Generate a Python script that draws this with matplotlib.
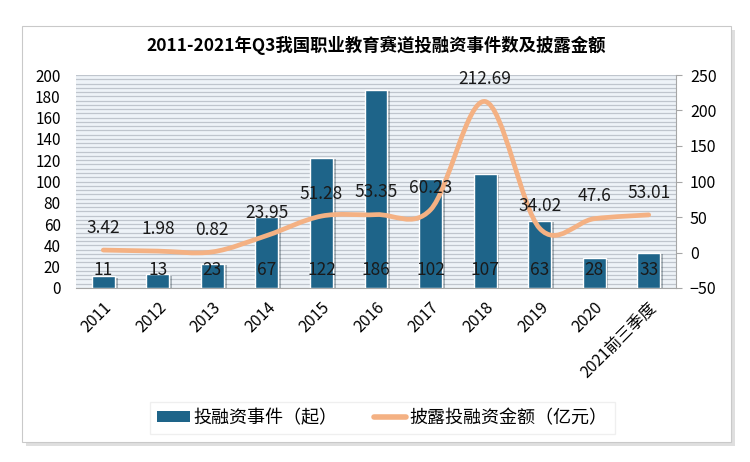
import numpy as np
import matplotlib.pyplot as plt
import matplotlib.patheffects as pe
from matplotlib.path import Path
from matplotlib.patches import PathPatch, Rectangle
from matplotlib.lines import Line2D
from matplotlib.ticker import MultipleLocator

plt.rcParams['font.family'] = ['Noto Sans CJK SC', 'DejaVu Sans']

# data
years = ["2011", "2012", "2013", "2014", "2015", "2016", "2017", "2018",
         "2019", "2020", "2021前三季度"]
events = [11, 13, 23, 67, 122, 186, 102, 107, 63, 28, 33]
amount = [3.42, 1.98, 0.82, 23.95, 51.28, 53.35, 60.23, 212.69, 34.02, 47.6,
          53.01]
amount_labels = ["3.42", "1.98", "0.82", "23.95", "51.28", "53.35", "60.23",
                 "212.69", "34.02", "47.6", "53.01"]

BAR_COLOR = "#1e6489"
LINE_COLOR = "#f4b183"

fig = plt.figure(figsize=(7.5, 4.62), dpi=100)

# outer frame with shadow
frame = Rectangle((22 / 750, 1 - 442 / 462), 709 / 750, 416 / 462,
                  transform=fig.transFigure, facecolor="white",
                  edgecolor="#c9c9c9", lw=0.8, zorder=-5)
frame.set_path_effects([pe.SimplePatchShadow(offset=(3, -3), alpha=0.25,
                                             shadow_rgbFace="#808080"),
                        pe.Normal()])
fig.patches.append(frame)

fig.text(0.501, 0.902, "2011-2021年Q3我国职业教育赛道投融资事件数及披露金额",
         ha="center", va="center", fontsize=12.5, fontweight="bold")

ax = fig.add_axes([76 / 750, 1 - 288 / 462, 600 / 750, 213 / 462])
ax.set_facecolor("#eef3f8")
x = np.arange(len(years))

bars = ax.bar(x, events, width=0.42, color=BAR_COLOR, edgecolor="white",
              lw=1.0, zorder=3)
for b in bars:
    b.set_path_effects([pe.SimplePatchShadow(offset=(2, -1), alpha=0.3),
                        pe.Normal()])

ax.set_xlim(-0.5, len(years) - 0.5)
ax.set_ylim(0, 200)
ax.set_yticks(range(0, 201, 20))
ax.yaxis.set_minor_locator(MultipleLocator(4))
ax.grid(axis="y", which="both", color="#bfc5cd", lw=0.9, zorder=0)
ax.set_axisbelow(True)
ax.tick_params(axis="y", which="both", length=0, pad=11, labelsize=11)
ax.set_xticks(x)
ax.set_xticklabels(years, rotation=45, ha="right", rotation_mode="anchor",
                   fontsize=11.5)
ax.tick_params(axis="x", length=0, pad=8)
for s in ["left", "top", "right"]:
    ax.spines[s].set_visible(False)
ax.spines["bottom"].set_color("#a6a6a6")

for xi, v in zip(x, events):
    ax.annotate(str(v), (xi, 0), xytext=(0, 13), textcoords="offset points",
                ha="center", va="center", fontsize=12.5, color="#1a1a1a",
                zorder=6)

# right axis, smoothed line
ax2 = ax.twinx()
ax2.set_ylim(-50, 250)
ax2.set_yticks(range(-50, 251, 50))
ax2.tick_params(axis="y", length=4, width=0.8, color="#a6a6a6", pad=6,
                labelsize=11.5)
for s in ["left", "top", "bottom"]:
    ax2.spines[s].set_visible(False)
ax2.spines["right"].set_color("#a6a6a6")

pts = np.column_stack([x, amount]).astype(float)
ext = np.vstack([pts[0], pts, pts[-1]])
verts = [tuple(pts[0])]
codes = [Path.MOVETO]
for i in range(len(pts) - 1):
    p0, p1, p2, p3 = ext[i], ext[i + 1], ext[i + 2], ext[i + 3]
    c1 = p1 + (p2 - p0) / 6
    c2 = p2 - (p3 - p1) / 6
    verts += [tuple(c1), tuple(c2), tuple(p2)]
    codes += [Path.CURVE4] * 3
curve = PathPatch(Path(verts, codes), fill=False, edgecolor=LINE_COLOR,
                  lw=3.4, capstyle="round", joinstyle="round", zorder=4)
ax2.add_patch(curve)

for xi, v, lab in zip(x, amount, amount_labels):
    ax2.annotate(lab, (xi, v), xytext=(0, 16), textcoords="offset points",
                 ha="center", va="center", fontsize=12.5, color="#1a1a1a",
                 zorder=6)

handles = [Rectangle((0, 0), 1, 1, facecolor=BAR_COLOR),
           Line2D([], [], color=LINE_COLOR, lw=4, solid_capstyle="round")]
leg = fig.legend(handles, ["投融资事件（起）", "披露投融资金额（亿元）"],
                 loc="center", bbox_to_anchor=(0.51, 1 - 418 / 462), ncol=2,
                 fontsize=13, frameon=True, handlelength=1.8,
                 handleheight=0.5, columnspacing=2.0, handletextpad=0.2,
                 borderpad=0.4)
leg.get_frame().set_facecolor("white")
leg.get_frame().set_edgecolor("#ececec")
leg.get_frame().set_boxstyle("square", pad=0.0)

fig.savefig("out.png", dpi=100)
